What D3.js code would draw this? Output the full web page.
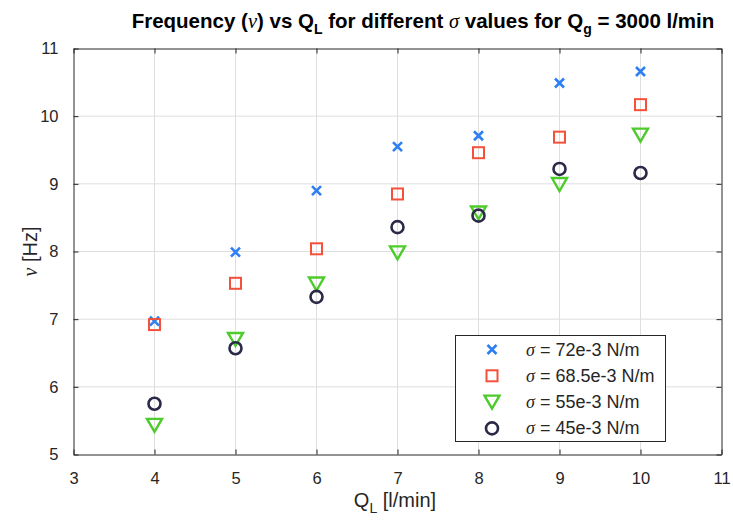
<!DOCTYPE html>
<html>
<head>
<meta charset="utf-8">
<script src="https://cdn.jsdelivr.net/npm/d3@7"></script>
<style>
  html, body { margin: 0; padding: 0; background: #fff; }
  svg { display: block; font-family: "Liberation Sans", Arial, Helvetica, sans-serif; }
</style>
</head>
<body>
<svg id="chart" width="733" height="527"></svg>
<script>
// Liquid flow rates Q_L [l/min]
const flowRates = [4, 5, 6, 7, 8, 9, 10];

// Measured frequency [Hz] for each surface tension value
const freqSigma72 = [6.97, 7.99, 8.90, 9.55, 9.71, 10.49, 10.66];
const freqSigma685 = [6.92, 7.53, 8.04, 8.85, 9.46, 9.69, 10.17];
const freqSigma55 = [5.43, 6.70, 7.52, 7.98, 8.57, 8.99, 9.72];
const freqSigma45 = [5.75, 6.57, 7.33, 8.36, 8.53, 9.22, 9.16];

const seriesLabels = ["72e-3 N/m", "68.5e-3 N/m", "55e-3 N/m", "45e-3 N/m"];

const xTicks = [3, 4, 5, 6, 7, 8, 9, 10, 11];
const yTicks = [5, 6, 7, 8, 9, 10, 11];

const series = [
  { values: freqSigma72, label: seriesLabels[0], shape: "cross", color: "#2f7ff4" },
  { values: freqSigma685, label: seriesLabels[1], shape: "square", color: "#f4503a" },
  { values: freqSigma55, label: seriesLabels[2], shape: "triangleDown", color: "#4ccb2b" },
  { values: freqSigma45, label: seriesLabels[3], shape: "circle", color: "#2a2a48" }
];

const svg = d3.select("#chart");
const margin = { left: 73.5, top: 48.5, right: 721.5, bottom: 454.5 };

const x = d3.scaleLinear().domain([3, 11]).range([margin.left, margin.right]);
const y = d3.scaleLinear().domain([5, 11]).range([margin.bottom, margin.top]);

const axisColor = "#262626";
const gridColor = "#dedede";
const tickFont = "16.5px";

// Grid
const grid = svg.append("g");
grid.selectAll("line.gx").data(xTicks.slice(1, -1)).join("line")
  .attr("x1", d => x(d)).attr("x2", d => x(d))
  .attr("y1", margin.top).attr("y2", margin.bottom)
  .attr("stroke", gridColor).attr("stroke-width", 1);
grid.selectAll("line.gy").data(yTicks.slice(1, -1)).join("line")
  .attr("x1", margin.left).attr("x2", margin.right)
  .attr("y1", d => y(d)).attr("y2", d => y(d))
  .attr("stroke", gridColor).attr("stroke-width", 1);

// Axes (ticks pointing inward, box on all sides)
function styleAxis(g) {
  g.select(".domain").attr("stroke", axisColor).attr("stroke-width", 1);
  g.selectAll(".tick line").attr("stroke", axisColor);
  g.selectAll(".tick text").attr("fill", "#262626").attr("font-size", tickFont);
}
const tickLen = 5;
svg.append("g").attr("transform", `translate(0,${margin.bottom})`)
  .call(d3.axisBottom(x).tickValues(xTicks).tickFormat(d3.format("d"))
    .tickSizeInner(-tickLen).tickSizeOuter(0).tickPadding(18))
  .call(styleAxis);
svg.append("g").attr("transform", `translate(0,${margin.top})`)
  .call(d3.axisTop(x).tickValues(xTicks).tickFormat("")
    .tickSizeInner(-tickLen).tickSizeOuter(0))
  .call(styleAxis);
svg.append("g").attr("transform", `translate(${margin.left},0)`)
  .call(d3.axisLeft(y).tickValues(yTicks).tickFormat(d3.format("d"))
    .tickSizeInner(-tickLen).tickSizeOuter(0).tickPadding(15))
  .call(styleAxis);
svg.append("g").attr("transform", `translate(${margin.right},0)`)
  .call(d3.axisRight(y).tickValues(yTicks).tickFormat("")
    .tickSizeInner(-tickLen).tickSizeOuter(0))
  .call(styleAxis);

// Marker drawing
function drawMarker(g, shape, color) {
  if (shape === "cross") {
    const s = 4.5;
    g.append("path").attr("d", `M${-s},${-s}L${s},${s}M${-s},${s}L${s},${-s}`)
      .attr("stroke", color).attr("stroke-width", 2.6).attr("fill", "none");
  } else if (shape === "square") {
    const s = 5.5;
    g.append("rect").attr("x", -s).attr("y", -s).attr("width", 2 * s).attr("height", 2 * s)
      .attr("stroke", color).attr("stroke-width", 2).attr("fill", "none");
  } else if (shape === "triangleDown") {
    const w = 7.5, h = 6.5;
    g.append("path").attr("d", `M${-w},${-h}L${w},${-h}L0,${h}Z`)
      .attr("stroke", color).attr("stroke-width", 2.4).attr("fill", "none")
      .attr("stroke-linejoin", "miter");
  } else if (shape === "circle") {
    g.append("circle").attr("r", 6)
      .attr("stroke", color).attr("stroke-width", 2.6).attr("fill", "none");
  }
}

const marks = svg.append("g");
series.forEach(s => {
  s.values.forEach((v, i) => {
    const g = marks.append("g").attr("transform", `translate(${x(flowRates[i])},${y(v)})`);
    drawMarker(g, s.shape, s.color);
  });
});

// Legend
const legend = svg.append("g");
legend.append("rect").attr("x", 455.5).attr("y", 335.5).attr("width", 210).attr("height", 106)
  .attr("fill", "#fff").attr("stroke", axisColor).attr("stroke-width", 1);
series.forEach((s, i) => {
  const cy = 349.5 + i * 26.3;
  const g = legend.append("g").attr("transform", `translate(492,${cy})`);
  drawMarker(g, s.shape, s.color);
  const t = legend.append("text").attr("x", 526).attr("y", cy + 6)
    .attr("font-size", "18px").attr("fill", "#262626");
  t.append("tspan").attr("font-family", "'Liberation Serif', 'Times New Roman', serif")
    .attr("font-style", "italic").text("σ");
  t.append("tspan").text(" = " + s.label);
});

// Title
const title = svg.append("text").attr("x", 423).attr("y", 28)
  .attr("text-anchor", "middle").attr("font-size", "20.5px").attr("font-weight", "bold")
  .attr("fill", "#000");
title.append("tspan").text("Frequency (");
title.append("tspan").attr("font-family", "'Liberation Serif', serif").attr("font-style", "italic")
  .attr("font-weight", "normal").text("ν");
title.append("tspan").text(") vs Q");
title.append("tspan").attr("font-size", "14px").attr("dy", 6).text("L");
title.append("tspan").attr("dy", -6).text(" for different ");
title.append("tspan").attr("font-family", "'Liberation Serif', serif").attr("font-style", "italic")
  .attr("font-weight", "normal").text("σ");
title.append("tspan").text(" values for Q");
title.append("tspan").attr("font-size", "14px").attr("dy", 6).text("g");
title.append("tspan").attr("dy", -6).text(" = 3000 l/min");

// X axis label
const xl = svg.append("text").attr("x", 395).attr("y", 507)
  .attr("text-anchor", "middle").attr("font-size", "20px").attr("fill", "#262626");
xl.append("tspan").text("Q");
xl.append("tspan").attr("font-size", "14px").attr("dy", 6).text("L");
xl.append("tspan").attr("dy", -6).text(" [l/min]");

// Y axis label
const yl = svg.append("text")
  .attr("transform", `translate(37,${(margin.top + margin.bottom) / 2}) rotate(-90)`)
  .attr("text-anchor", "middle").attr("font-size", "20px").attr("fill", "#262626");
yl.append("tspan").attr("font-family", "'Liberation Serif', serif").attr("font-style", "italic").text("ν");
yl.append("tspan").text(" [Hz]");
</script>
</body>
</html>
